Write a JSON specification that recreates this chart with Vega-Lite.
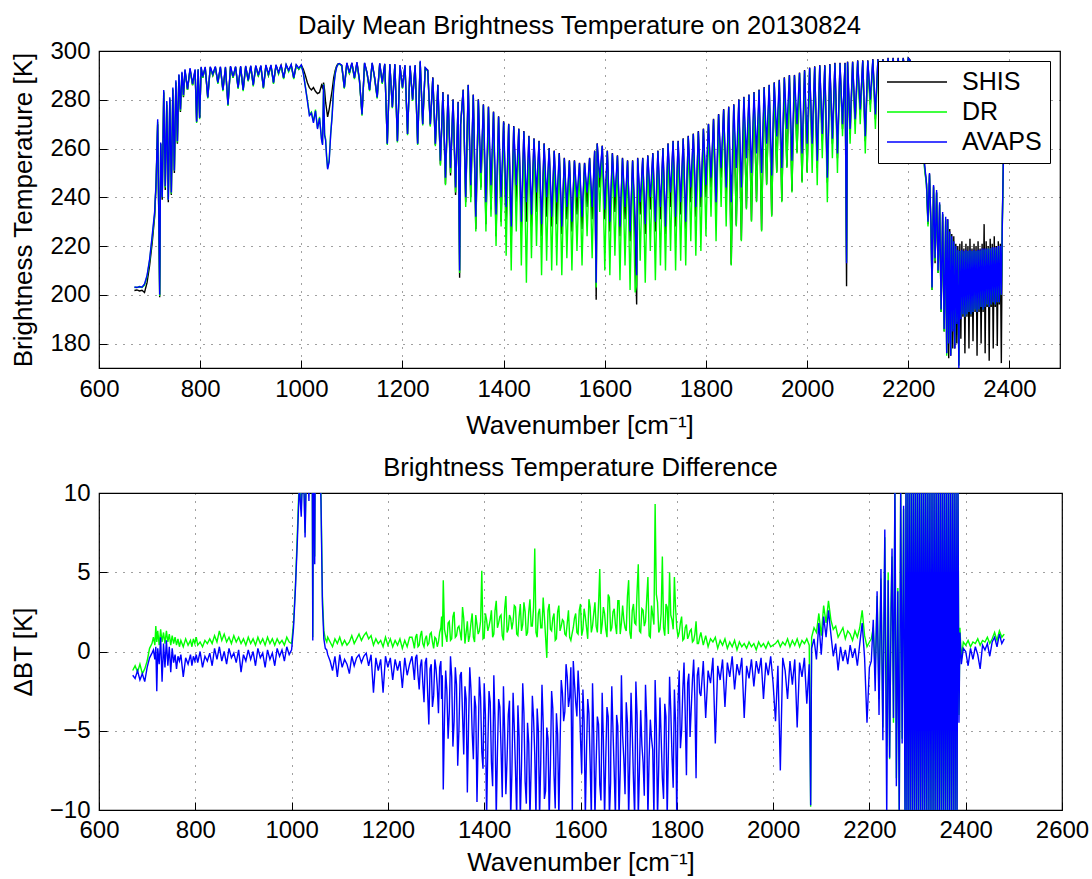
{
"$schema": "https://vega.github.io/schema/vega-lite/v6.json",
"background": "white",
"padding": {"left": 9, "top": 13, "right": 4, "bottom": 0},
"spacing": 16,
"resolve": {"legend": {"color": "independent"}},
"config": {
 "font": "Liberation Sans",
 "view": {"stroke": "black", "strokeWidth": 1.2},
 "mark": {"invalid": "filter"},
 "axis": {"domain": false, "labelFont": "Liberation Sans", "labelFontSize": 24, "labelColor": "black", "labelFlush": false, "labelOverlap": false, "titleFont": "Liberation Sans", "titleFontSize": 26, "titleFontWeight": "normal", "titleColor": "black", "tickColor": "black", "tickSize": -8, "tickWidth": 1, "labelPadding": 17, "grid": true, "gridColor": "black", "gridDash": [1, 7], "gridOpacity": 0.75, "gridWidth": 1, "format": "d"},
 "axisY": {"titlePadding": 13},
 "axisX": {"titlePadding": 11, "labelPadding": 17},
 "title": {"font": "Liberation Sans", "fontSize": 25.6, "fontWeight": "normal", "color": "black", "frame": "group", "anchor": "middle", "baseline": "alphabetic", "offset": -1}
},
"data": {"values": [
{"wn":670,"S":201.8,"D":203.0,"A":203.2,"dD":-1.2,"dA":-1.5},
{"wn":675,"S":202.0,"D":203.1,"A":203.0,"dD":-0.9,"dA":-1.7},
{"wn":680,"S":201.6,"D":203.2,"A":203.4,"dD":-1.3,"dA":-1.2},
{"wn":685,"S":201.9,"D":203.0,"A":203.1,"dD":-0.8,"dA":-1.8},
{"wn":690,"S":201.0,"D":204.0,"A":204.5,"dD":-1.4,"dA":-1.4},
{"wn":695,"S":205.0,"D":207.5,"A":208.0,"dD":-1.1,"dA":-1.9},
{"wn":700,"S":212,"D":214,"A":214.5,"dD":-0.6,"dA":-1.0},
{"wn":705,"S":221,"D":223,"A":224,"dD":0.2,"dA":-0.4},
{"wn":710,"S":232,"D":233,"A":234,"dD":0.5,"dA":-0.1},
{"wn":713,"S":246,"D":246.5,"A":247,"dD":0.9,"dA":0.1},
{"wn":716,"S":270,"D":271,"A":272,"dD":0.4,"dA":-0.5},
{"wn":718,"S":236,"D":236.5,"A":237,"dD":1.6,"dA":0.3},
{"wn":720,"S":199,"D":199.5,"A":200,"dD":0.6,"dA":-2.5},
{"wn":722,"S":262,"D":262,"A":262.5,"dD":1.3,"dA":0.2},
{"wn":725,"S":239,"D":240,"A":240,"dD":0.4,"dA":-0.8},
{"wn":728,"S":283,"D":283.5,"A":284,"dD":1.4,"dA":0.9},
{"wn":731,"S":243,"D":244,"A":244.5,"dD":0.6,"dA":-1.9},
{"wn":734,"S":278,"D":279,"A":279.5,"dD":1.2,"dA":0.5},
{"wn":737,"S":238,"D":239,"A":239,"dD":0.5,"dA":-1.0},
{"wn":740,"S":280,"D":280.5,"A":281,"dD":1.3,"dA":0.7},
{"wn":743,"S":241,"D":241.5,"A":242,"dD":0.6,"dA":-0.9},
{"wn":746,"S":284,"D":284.5,"A":285,"dD":1.1,"dA":0.3},
{"wn":749,"S":250,"D":251,"A":251,"dD":0.4,"dA":-1.3},
{"wn":752,"S":287,"D":287.5,"A":288,"dD":1.0,"dA":0.2},
{"wn":755,"S":262,"D":262.5,"A":263,"dD":0.5,"dA":-0.7},
{"wn":758,"S":290,"D":290,"A":290.5,"dD":0.9,"dA":-0.2},
{"wn":761,"S":275,"D":275.5,"A":276,"dD":0.4,"dA":-1.1},
{"wn":764,"S":291,"D":291,"A":291.5,"dD":0.8,"dA":-0.3},
{"wn":767,"S":281,"D":281.5,"A":282,"dD":0.3,"dA":-0.6},
{"wn":770,"S":292,"D":292,"A":292.5,"dD":0.7,"dA":-0.2},
{"wn":775,"S":284,"D":284,"A":284.5,"dD":0.3,"dA":-1.6},
{"wn":780,"S":292.5,"D":292.5,"A":293,"dD":0.8,"dA":-0.4},
{"wn":785,"S":286,"D":286,"A":286.5,"dD":0.4,"dA":-0.8},
{"wn":790,"S":292,"D":292,"A":292.5,"dD":0.7,"dA":-0.2},
{"wn":793,"S":271,"D":270.5,"A":271,"dD":0.3,"dA":-0.9},
{"wn":796,"S":292,"D":292.5,"A":292.5,"dD":0.8,"dA":-0.3},
{"wn":799,"S":272.5,"D":272,"A":272.5,"dD":0.5,"dA":-0.6},
{"wn":802,"S":293,"D":293,"A":293.5,"dD":0.9,"dA":-0.2},
{"wn":805,"S":289,"D":289,"A":289.5,"dD":0.4,"dA":-0.7},
{"wn":810,"S":293.2,"D":293.2,"A":293.5,"dD":0.6,"dA":0.0},
{"wn":815,"S":281,"D":280.5,"A":281,"dD":0.3,"dA":-1.0},
{"wn":820,"S":293.3,"D":293.3,"A":293.6,"dD":0.7,"dA":-0.3},
{"wn":825,"S":290,"D":290,"A":290.5,"dD":0.5,"dA":-0.6},
{"wn":830,"S":293.4,"D":293.4,"A":293.7,"dD":0.8,"dA":-0.1},
{"wn":835,"S":287,"D":286.5,"A":287,"dD":0.5,"dA":-0.9},
{"wn":840,"S":293.3,"D":293.3,"A":293.6,"dD":1.0,"dA":0.2},
{"wn":845,"S":284,"D":283.5,"A":284,"dD":0.6,"dA":-0.5},
{"wn":850,"S":293.2,"D":293.2,"A":293.5,"dD":1.3,"dA":0.3},
{"wn":855,"S":278,"D":277.5,"A":278,"dD":0.7,"dA":-0.6},
{"wn":860,"S":293.5,"D":293.5,"A":293.8,"dD":1.1,"dA":0.0},
{"wn":865,"S":289,"D":289,"A":289.5,"dD":0.6,"dA":-0.8},
{"wn":870,"S":293.4,"D":293.4,"A":293.7,"dD":0.9,"dA":0.2},
{"wn":875,"S":285,"D":284.5,"A":285,"dD":0.5,"dA":-0.4},
{"wn":880,"S":293.5,"D":293.5,"A":293.8,"dD":1.0,"dA":-0.1},
{"wn":885,"S":284,"D":283.5,"A":284,"dD":0.6,"dA":-0.7},
{"wn":890,"S":293.6,"D":293.6,"A":293.9,"dD":0.9,"dA":0.1},
{"wn":895,"S":288,"D":287.5,"A":288,"dD":0.5,"dA":-1.3},
{"wn":900,"S":293.7,"D":293.7,"A":294,"dD":0.8,"dA":-0.2},
{"wn":905,"S":286,"D":285.5,"A":286,"dD":0.4,"dA":-0.6},
{"wn":910,"S":293.8,"D":293.8,"A":294.1,"dD":0.9,"dA":0.1},
{"wn":915,"S":290,"D":289.5,"A":290,"dD":0.5,"dA":-0.5},
{"wn":920,"S":293.8,"D":293.8,"A":294.1,"dD":0.8,"dA":0.0},
{"wn":925,"S":285,"D":284.5,"A":285,"dD":0.4,"dA":-0.9},
{"wn":930,"S":294,"D":294,"A":294.3,"dD":0.9,"dA":0.2},
{"wn":935,"S":290,"D":290,"A":290.5,"dD":0.5,"dA":-0.4},
{"wn":940,"S":294,"D":294,"A":294.3,"dD":0.8,"dA":-0.1},
{"wn":945,"S":287,"D":286.5,"A":287,"dD":0.4,"dA":-1.0},
{"wn":950,"S":294.1,"D":294.1,"A":294.4,"dD":0.9,"dA":0.1},
{"wn":955,"S":291,"D":290.5,"A":291,"dD":0.5,"dA":-0.5},
{"wn":960,"S":294.1,"D":294.1,"A":294.4,"dD":0.8,"dA":-0.1},
{"wn":965,"S":289,"D":288.5,"A":289,"dD":0.4,"dA":-0.9},
{"wn":970,"S":294.2,"D":294.2,"A":294.5,"dD":0.8,"dA":0.2},
{"wn":975,"S":292,"D":291.5,"A":292,"dD":0.5,"dA":-0.3},
{"wn":980,"S":294.2,"D":294.2,"A":294.5,"dD":0.7,"dA":0.1},
{"wn":985,"S":289,"D":288.5,"A":289,"dD":0.4,"dA":-0.6},
{"wn":990,"S":294.1,"D":294.1,"A":294.4,"dD":0.9,"dA":0.3},
{"wn":995,"S":292.5,"D":292.5,"A":293,"dD":0.6,"dA":-0.2},
{"wn":1000,"S":294.2,"D":294.1,"A":294.3,"dD":0.5,"dA":0.1},
{"wn":1004,"S":292.5,"D":291,"A":290.8,"dD":1.8,"dA":1.5},
{"wn":1008,"S":290,"D":285.5,"A":285.2,"dD":4.2,"dA":4.0},
{"wn":1012,"S":287,"D":280,"A":279.5,"dD":7.5,"dA":7.0},
{"wn":1016,"S":285,"D":274,"A":273.5,"dD":11,"dA":10.5},
{"wn":1020,"S":284,"D":275,"A":274.5,"dD":9.0,"dA":8.5},
{"wn":1024,"S":285,"D":271,"A":270.5,"dD":13,"dA":12.5},
{"wn":1028,"S":283.5,"D":276,"A":275.5,"dD":7.5,"dA":7.2},
{"wn":1032,"S":282.5,"D":268.5,"A":268,"dD":14,"dA":13.5},
{"wn":1036,"S":283,"D":273,"A":272.5,"dD":10,"dA":9.5},
{"wn":1040,"S":286,"D":264,"A":263.5,"dD":20,"dA":19},
{"wn":1042,"S":285,"D":262,"A":261.5,"dD":21,"dA":20},
{"wn":1044,"S":287,"D":286.5,"A":286.3,"dD":0.9,"dA":0.7},
{"wn":1046,"S":284,"D":266,"A":265.5,"dD":18,"dA":17},
{"wn":1048,"S":279,"D":264,"A":263.5,"dD":6.0,"dA":5.5},
{"wn":1050,"S":276,"D":257,"A":256.5,"dD":19,"dA":18},
{"wn":1052,"S":273,"D":252,"A":251.5,"dD":21,"dA":20},
{"wn":1055,"S":276,"D":255,"A":254.5,"dD":21,"dA":20},
{"wn":1058,"S":280,"D":266,"A":265.5,"dD":14,"dA":13},
{"wn":1061,"S":284,"D":274,"A":273.5,"dD":10,"dA":9.5},
{"wn":1064,"S":289,"D":285.5,"A":285,"dD":3.5,"dA":3.0},
{"wn":1067,"S":292,"D":291,"A":290.5,"dD":1.3,"dA":0.8},
{"wn":1070,"S":294,"D":293.6,"A":293.5,"dD":0.8,"dA":0.2},
{"wn":1073,"S":294.8,"D":294.6,"A":294.7,"dD":0.6,"dA":0.1},
{"wn":1075,"S":294.8,"D":294.7,"A":294.9,"dD":0.9,"dA":-0.2},
{"wn":1080,"S":294,"D":293.8,"A":294.2,"dD":0.6,"dA":-0.6},
{"wn":1085,"S":285,"D":284.5,"A":285,"dD":0.3,"dA":-1.2},
{"wn":1090,"S":295,"D":294.8,"A":295.2,"dD":0.8,"dA":-0.3},
{"wn":1095,"S":291,"D":290.5,"A":291,"dD":0.5,"dA":-1.6},
{"wn":1100,"S":295,"D":294.8,"A":295.2,"dD":0.9,"dA":-0.2},
{"wn":1105,"S":289,"D":288.5,"A":289,"dD":0.4,"dA":-1.0},
{"wn":1110,"S":295.2,"D":295,"A":295.4,"dD":0.7,"dA":-0.5},
{"wn":1115,"S":288,"D":287.5,"A":288,"dD":0.4,"dA":-0.8},
{"wn":1120,"S":274,"D":273.5,"A":274,"dD":0.6,"dA":-1.4},
{"wn":1125,"S":295,"D":294.8,"A":295.2,"dD":1.0,"dA":-0.3},
{"wn":1130,"S":291,"D":290.5,"A":291,"dD":0.5,"dA":-0.9},
{"wn":1135,"S":284,"D":283.5,"A":284,"dD":0.8,"dA":-0.4},
{"wn":1140,"S":295,"D":294.8,"A":295.2,"dD":1.1,"dA":-0.2},
{"wn":1145,"S":289,"D":288.5,"A":289,"dD":0.7,"dA":-0.7},
{"wn":1150,"S":281,"D":280.5,"A":281,"dD":1.0,"dA":-0.3},
{"wn":1155,"S":294.8,"D":294.6,"A":295,"dD":1.2,"dA":-0.1},
{"wn":1160,"S":287,"D":286.5,"A":287,"dD":0.8,"dA":-0.9},
{"wn":1165,"S":294.6,"D":294.4,"A":294.8,"dD":1.0,"dA":-0.2},
{"wn":1170,"S":262,"D":261.5,"A":262,"dD":0.4,"dA":-2.6},
{"wn":1175,"S":294.5,"D":294.3,"A":294.7,"dD":0.8,"dA":-0.4},
{"wn":1180,"S":277,"D":276.5,"A":277,"dD":0.5,"dA":-1.2},
{"wn":1185,"S":294.5,"D":294.3,"A":294.7,"dD":0.7,"dA":-0.5},
{"wn":1190,"S":263,"D":262.5,"A":263,"dD":0.3,"dA":-2.6},
{"wn":1195,"S":294,"D":293.8,"A":294.2,"dD":0.9,"dA":-0.3},
{"wn":1200,"S":285,"D":284.5,"A":285,"dD":0.4,"dA":-1.0},
{"wn":1205,"S":294,"D":293.8,"A":294.2,"dD":0.8,"dA":-0.4},
{"wn":1210,"S":266,"D":265.5,"A":266,"dD":0.3,"dA":-1.8},
{"wn":1215,"S":293.8,"D":293.6,"A":294,"dD":0.7,"dA":-0.5},
{"wn":1220,"S":280,"D":279.5,"A":280,"dD":0.4,"dA":-1.2},
{"wn":1225,"S":294,"D":293.8,"A":294.2,"dD":0.8,"dA":-0.6},
{"wn":1230,"S":262,"D":261.5,"A":262,"dD":0.2,"dA":-2.3},
{"wn":1235,"S":295.5,"D":295.3,"A":296,"dD":0.7,"dA":-0.4},
{"wn":1240,"S":270,"D":269.5,"A":270,"dD":0.3,"dA":-1.5},
{"wn":1245,"S":293,"D":292.8,"A":293.2,"dD":0.9,"dA":-0.8},
{"wn":1250,"A":292,"D":291.7,"S":292.2,"dD":0.9,"dA":-0.3},
{"wn":1255,"A":270,"D":269,"S":269.5,"dD":0.2,"dA":-1.8},
{"wn":1260,"A":289,"D":288.7,"S":289.2,"dD":1.1,"dA":-0.2},
{"wn":1265,"A":262,"D":261,"S":261.5,"dD":0.4,"dA":-2.4},
{"wn":1270,"A":286,"D":285.7,"S":286.2,"dD":1.3,"dA":-0.5},
{"wn":1275,"A":255,"D":253,"S":253.5,"dD":0.3,"dA":-3.2},
{"wn":1280,"A":283,"D":282.7,"S":283.2,"dD":1.0,"dA":-0.4},
{"wn":1285,"A":248,"D":245,"S":245.5,"dD":0.5,"dA":-4.6},
{"wn":1290,"A":282,"D":281.7,"S":282.2,"dD":1.2,"dA":-0.8},
{"wn":1295,"A":252,"D":250,"S":249,"dD":0.2,"dA":-2.8},
{"wn":1300,"A":280,"D":279.7,"S":280.2,"dD":0.8,"dA":-1.1},
{"wn":1305,"A":244,"D":242,"S":241,"dD":0.6,"dA":-3.9},
{"wn":1310,"A":279,"D":278.7,"S":279.2,"dD":1.5,"dA":-0.6},
{"wn":1313,"A":210,"D":209,"S":207,"dD":0.3,"dA":-1.5},
{"wn":1315,"A":270,"D":269.5,"S":270,"dD":4.5,"dA":-8.7},
{"wn":1320,"A":284,"D":283.7,"S":284.2,"dD":1.0,"dA":-1.2},
{"wn":1325,"A":240,"D":236,"S":238,"dD":1.8,"dA":-5.5},
{"wn":1330,"A":286,"D":285.7,"S":286.2,"dD":0.7,"dA":-0.3},
{"wn":1335,"A":245,"D":238,"S":240,"dD":2.2,"dA":-6.0},
{"wn":1340,"A":282,"D":281.7,"S":282.2,"dD":0.9,"dA":-1.0},
{"wn":1345,"A":232,"D":226,"S":227,"dD":1.5,"dA":-7.2},
{"wn":1350,"A":280,"D":279.7,"S":280.2,"dD":1.2,"dA":-1.5},
{"wn":1355,"A":250,"D":243,"S":244,"dD":2.8,"dA":-4.0},
{"wn":1360,"A":278,"D":277.7,"S":278.2,"dD":0.5,"dA":-2.2},
{"wn":1365,"A":238,"D":226,"S":229,"dD":1.9,"dA":-8.9},
{"wn":1370,"A":277,"D":276.7,"S":277.2,"dD":1.0,"dA":-1.0},
{"wn":1375,"A":245,"D":232,"S":235,"dD":2.4,"dA":-5.1},
{"wn":1380,"A":275,"D":274.7,"S":275.2,"dD":0.6,"dA":-2.8},
{"wn":1385,"A":233,"D":220,"S":224,"dD":1.7,"dA":-9.5},
{"wn":1390,"A":273,"D":272.7,"S":273.2,"dD":1.3,"dA":-1.6},
{"wn":1395,"A":240,"D":228,"S":230,"dD":5.1,"dA":-6.3},
{"wn":1400,"A":271,"D":270.7,"S":271.2,"dD":0.9,"dA":-2.0},
{"wn":1405,"A":236,"D":216,"S":228,"dD":2.0,"dA":-10.5},
{"wn":1410,"A":270,"D":269.7,"S":270.2,"dD":1.6,"dA":-2.5},
{"wn":1415,"A":228,"D":210,"S":222,"dD":2.6,"dA":-7.0},
{"wn":1420,"A":269,"D":268.7,"S":269.2,"dD":1.1,"dA":-1.5},
{"wn":1425,"A":245,"D":226,"S":238,"dD":3.2,"dA":-10.5},
{"wn":1430,"A":268,"D":267.7,"S":268.2,"dD":1.8,"dA":-3.0},
{"wn":1435,"A":230,"D":212,"S":226,"dD":2.3,"dA":-6.2},
{"wn":1440,"A":267,"D":266.7,"S":267.2,"dD":0.7,"dA":-2.2},
{"wn":1445,"A":238,"D":205,"S":230,"dD":3.5,"dA":-9.0},
{"wn":1450,"A":265,"D":264.7,"S":265.2,"dD":1.4,"dA":-4.0},
{"wn":1455,"A":233,"D":215,"S":228,"dD":2.1,"dA":-10.5},
{"wn":1460,"A":264,"D":263.7,"S":264.2,"dD":1.9,"dA":-2.6},
{"wn":1465,"A":242,"D":220,"S":234,"dD":2.8,"dA":-7.5},
{"wn":1470,"A":263,"D":262.7,"S":263.2,"dD":1.0,"dA":-3.4},
{"wn":1475,"A":229,"D":208,"S":224,"dD":3.0,"dA":-10.5},
{"wn":1480,"A":262,"D":261.7,"S":262.2,"dD":1.7,"dA":-2.0},
{"wn":1485,"A":240,"D":214,"S":232,"dD":2.5,"dA":-8.2},
{"wn":1490,"A":260,"D":259.7,"S":260.2,"dD":1.2,"dA":-4.5},
{"wn":1495,"A":232,"D":210,"S":228,"dD":3.3,"dA":-10.5},
{"wn":1500,"A":259,"D":258.7,"S":259.2,"dD":1.6,"dA":-2.8},
{"wn":1505,"A":238,"D":212,"S":229,"dD":6.5,"dA":-6.5},
{"wn":1510,"A":258,"D":257.7,"S":258.2,"dD":0.9,"dA":-3.6},
{"wn":1515,"A":228,"D":208,"S":225,"dD":2.7,"dA":-10.5},
{"wn":1520,"A":256,"D":255.7,"S":256.2,"dD":1.5,"dA":-2.1},
{"wn":1525,"A":236,"D":215,"S":231,"dD":2.2,"dA":-9.3},
{"wn":1530,"A":255,"D":254.7,"S":255.2,"dD":-0.4,"dA":-4.8},
{"wn":1535,"A":230,"D":210,"S":226,"dD":3.0,"dA":-10.5},
{"wn":1540,"A":255,"D":254.7,"S":255.2,"dD":1.3,"dA":-2.5},
{"wn":1545,"A":240,"D":218,"S":233,"dD":2.4,"dA":-7.8},
{"wn":1550,"A":254,"D":253.7,"S":254.2,"dD":0.8,"dA":-3.9},
{"wn":1555,"A":232,"D":212,"S":227,"dD":2.9,"dA":-10.5},
{"wn":1560,"A":254,"D":253.7,"S":254.2,"dD":1.6,"dA":-1.8},
{"wn":1565,"A":242,"D":224,"S":236,"dD":1.9,"dA":-4.4},
{"wn":1570,"A":256,"D":255.7,"S":256.2,"dD":1.0,"dA":-0.8},
{"wn":1575,"A":236,"D":215,"S":231,"dD":2.6,"dA":-3.5},
{"wn":1580,"A":259,"D":258.7,"S":259.2,"dD":0.7,"dA":-1.0},
{"wn":1583,"A":205,"D":203,"S":198,"dD":1.2,"dA":-10.5},
{"wn":1585,"A":262,"D":261.7,"S":262.2,"dD":1.5,"dA":-0.6},
{"wn":1590,"A":248,"D":234,"S":244,"dD":2.4,"dA":-3.2},
{"wn":1595,"A":261,"D":260.7,"S":261.2,"dD":1.1,"dA":-1.2},
{"wn":1600,"A":235,"D":210,"S":231,"dD":3.0,"dA":-5.5},
{"wn":1605,"A":259,"D":258.7,"S":259.2,"dD":1.4,"dA":-2.4},
{"wn":1610,"A":230,"D":208,"S":226,"dD":2.2,"dA":-10.5},
{"wn":1615,"A":258,"D":257.7,"S":258.2,"dD":0.8,"dA":-3.0},
{"wn":1620,"A":240,"D":216,"S":234,"dD":2.8,"dA":-7.0},
{"wn":1625,"A":257,"D":256.7,"S":257.2,"dD":1.6,"dA":-2.0},
{"wn":1630,"A":228,"D":206,"S":224,"dD":3.1,"dA":-10.5},
{"wn":1635,"A":256,"D":255.7,"S":256.2,"dD":1.2,"dA":-4.1},
{"wn":1640,"A":236,"D":212,"S":231,"dD":5.2,"dA":-8.4},
{"wn":1645,"A":255,"D":254.7,"S":255.2,"dD":1.7,"dA":-2.6},
{"wn":1650,"A":226,"D":202,"S":222,"dD":2.4,"dA":-10.5},
{"wn":1655,"A":255,"D":254.7,"S":255.2,"dD":0.9,"dA":-3.5},
{"wn":1660,"A":232,"D":201,"S":222,"dD":3.4,"dA":-10.5},
{"wn":1663,"A":208,"D":204,"S":196,"dD":1.3,"dA":-6.0},
{"wn":1665,"A":256,"D":255.7,"S":256.2,"dD":1.5,"dA":-2.2},
{"wn":1670,"A":238,"D":214,"S":233,"dD":2.7,"dA":-7.6},
{"wn":1675,"A":256,"D":255.7,"S":256.2,"dD":1.1,"dA":-4.0},
{"wn":1680,"A":229,"D":205,"S":225,"dD":3.2,"dA":-10.5},
{"wn":1685,"A":257,"D":256.7,"S":257.2,"dD":1.8,"dA":-1.5},
{"wn":1690,"A":240,"D":218,"S":235,"dD":2.0,"dA":-6.8},
{"wn":1695,"A":258,"D":257.7,"S":258.2,"dD":1.3,"dA":-3.2},
{"wn":1700,"A":230,"D":206,"S":226,"dD":4.5,"dA":-10.5},
{"wn":1705,"A":259,"D":258.7,"S":259.2,"dD":0.8,"dA":-2.6},
{"wn":1710,"A":236,"D":212,"S":231,"dD":3.0,"dA":-8.1},
{"wn":1715,"A":260,"D":259.7,"S":260.2,"dD":1.7,"dA":-1.9},
{"wn":1720,"A":228,"D":210,"S":225,"dD":5.5,"dA":-10.5},
{"wn":1725,"A":262,"D":261.7,"S":262.2,"dD":1.2,"dA":-3.7},
{"wn":1730,"A":242,"D":218,"S":236,"dD":2.6,"dA":-7.0},
{"wn":1735,"A":263,"D":262.7,"S":263.2,"dD":1.9,"dA":-2.1},
{"wn":1740,"A":232,"D":210,"S":228,"dD":4.7,"dA":-10.5},
{"wn":1745,"A":263,"D":262.7,"S":263.2,"dD":0.9,"dA":-4.3},
{"wn":1750,"A":238,"D":214,"S":233,"dD":2.3,"dA":-6.2},
{"wn":1755,"A":264,"D":263.7,"S":264.2,"dD":9.3,"dA":-1.8},
{"wn":1760,"A":230,"D":212,"S":227,"dD":3.1,"dA":-10.5},
{"wn":1765,"A":265,"D":264.7,"S":265.2,"dD":1.4,"dA":-2.9},
{"wn":1770,"A":244,"D":222,"S":238,"dD":6.0,"dA":-8.0},
{"wn":1775,"A":266,"D":265.7,"S":266.2,"dD":1.0,"dA":-3.3},
{"wn":1780,"A":236,"D":216,"S":232,"dD":2.8,"dA":-10.5},
{"wn":1785,"A":267,"D":266.7,"S":267.2,"dD":5.0,"dA":-1.6},
{"wn":1790,"A":240,"D":218,"S":236,"dD":2.0,"dA":-6.6},
{"wn":1795,"A":268,"D":267.7,"S":268.2,"dD":4.7,"dA":-2.4},
{"wn":1800,"A":245,"D":224,"S":240,"dD":1.5,"dA":-10.5},
{"wn":1805,"A":270,"D":269.7,"S":270.2,"dD":1.2,"dA":-1.2},
{"wn":1810,"A":248,"D":232,"S":244,"dD":2.2,"dA":-5.0},
{"wn":1815,"A":272,"D":271.7,"S":272.2,"dD":0.8,"dA":-0.7},
{"wn":1820,"A":238,"D":222,"S":235,"dD":1.7,"dA":-7.8},
{"wn":1825,"A":274,"D":273.7,"S":274.2,"dD":1.0,"dA":-1.4},
{"wn":1830,"A":252,"D":236,"S":248,"dD":1.4,"dA":-3.6},
{"wn":1835,"A":276,"D":275.7,"S":276.2,"dD":0.7,"dA":-0.5},
{"wn":1840,"A":244,"D":228,"S":241,"dD":1.9,"dA":-8.0},
{"wn":1845,"A":277,"D":276.7,"S":277.2,"dD":0.5,"dA":-1.0},
{"wn":1850,"A":238,"D":212,"S":212.5,"dD":1.2,"dA":-2.8},
{"wn":1855,"A":278,"D":277.7,"S":278.2,"dD":0.4,"dA":-0.6},
{"wn":1860,"A":252,"D":228,"S":228.5,"dD":1.0,"dA":-4.2},
{"wn":1865,"A":280,"D":279.7,"S":280.2,"dD":0.3,"dA":-1.2},
{"wn":1870,"A":244,"D":222,"S":222.5,"dD":0.8,"dA":-2.0},
{"wn":1875,"A":281,"D":280.7,"S":281.2,"dD":0.6,"dA":-0.4},
{"wn":1880,"A":256,"D":235,"S":235.5,"dD":0.9,"dA":-5.8},
{"wn":1885,"A":282,"D":281.7,"S":282.2,"dD":0.2,"dA":-0.9},
{"wn":1890,"A":250,"D":230,"S":230.5,"dD":0.7,"dA":-1.8},
{"wn":1895,"A":283,"D":282.7,"S":283.2,"dD":0.4,"dA":-0.5},
{"wn":1900,"A":258,"D":238,"S":238.5,"dD":0.8,"dA":-3.5},
{"wn":1905,"A":284,"D":283.7,"S":284.2,"dD":0.2,"dA":-0.7},
{"wn":1910,"A":250,"D":226,"S":226.5,"dD":0.6,"dA":-1.6},
{"wn":1915,"A":285,"D":284.7,"S":285.2,"dD":0.3,"dA":-0.3},
{"wn":1920,"A":262,"D":245,"S":245.5,"dD":0.7,"dA":-2.4},
{"wn":1925,"A":286,"D":285.7,"S":286.2,"dD":0.1,"dA":-0.8},
{"wn":1930,"A":249,"D":232,"S":232.5,"dD":0.6,"dA":-1.5},
{"wn":1935,"A":287,"D":286.7,"S":287.2,"dD":0.3,"dA":-0.4},
{"wn":1940,"A":265,"D":250,"S":250.5,"dD":0.5,"dA":-4.2},
{"wn":1945,"A":288,"D":287.7,"S":288.2,"dD":0.2,"dA":-0.9},
{"wn":1950,"A":252,"D":238,"S":238.5,"dD":0.6,"dA":-1.7},
{"wn":1955,"A":289,"D":288.7,"S":289.2,"dD":0.3,"dA":-0.5},
{"wn":1960,"A":268,"D":252,"S":252.5,"dD":0.5,"dA":-2.2},
{"wn":1965,"A":290,"D":289.7,"S":290.2,"dD":0.1,"dA":-0.6},
{"wn":1970,"A":255,"D":242,"S":242.5,"dD":0.6,"dA":-1.4},
{"wn":1975,"A":290,"D":289.7,"S":290.2,"dD":0.3,"dA":-0.4},
{"wn":1980,"A":270,"D":258,"S":258.5,"dD":0.5,"dA":-3.0},
{"wn":1985,"A":291,"D":290.7,"S":291.2,"dD":0.2,"dA":-0.7},
{"wn":1990,"A":258,"D":246,"S":246.5,"dD":0.6,"dA":-1.5},
{"wn":1995,"A":292,"D":291.7,"S":292.2,"dD":0.3,"dA":-0.3},
{"wn":2000,"A":262,"D":250,"S":250.5,"dD":0.4,"dA":-2.0},
{"wn":2005,"A":293,"D":292.7,"S":293.2,"dD":0.5,"dA":-4.4},
{"wn":2010,"A":262,"D":250,"S":258,"dD":0.7,"dA":-0.9},
{"wn":2015,"A":293.5,"D":293.2,"S":293.7,"dD":0.3,"dA":-7.5},
{"wn":2020,"A":255,"D":245,"S":252,"dD":0.6,"dA":-0.4},
{"wn":2025,"A":294,"D":293.7,"S":294.2,"dD":0.4,"dA":-1.2},
{"wn":2030,"A":266,"D":256,"S":263,"dD":0.8,"dA":-3.0},
{"wn":2035,"A":294,"D":293.7,"S":294.2,"dD":0.3,"dA":-0.6},
{"wn":2040,"A":248,"D":238,"S":246,"dD":0.7,"dA":-2.1},
{"wn":2045,"A":294.5,"D":294.2,"S":294.7,"dD":0.4,"dA":-0.5},
{"wn":2050,"A":264,"D":256,"S":262,"dD":0.8,"dA":-4.8},
{"wn":2055,"A":295,"D":294.7,"S":295.2,"dD":0.3,"dA":-0.7},
{"wn":2060,"A":258,"D":250,"S":256,"dD":0.7,"dA":-1.6},
{"wn":2065,"A":295,"D":294.7,"S":295.2,"dD":0.5,"dA":-0.4},
{"wn":2070,"A":270,"D":265,"S":268,"dD":0.8,"dA":-3.3},
{"wn":2075,"A":295,"D":294.7,"S":295.2,"dD":0.4,"dA":-0.8},
{"wn":2078,"A":213,"D":213.5,"S":203.5,"dD":-9.8,"dA":-9.7},
{"wn":2080,"A":295.5,"D":295.2,"S":295.7,"dD":0.9,"dA":0.2},
{"wn":2085,"A":268,"D":262,"S":266,"dD":1.5,"dA":0.8},
{"wn":2090,"A":295.5,"D":295.2,"S":295.7,"dD":1.2,"dA":-0.5},
{"wn":2095,"A":272,"D":266,"S":270,"dD":2.4,"dA":1.8},
{"wn":2100,"A":296,"D":295.7,"S":296.2,"dD":1.0,"dA":-0.2},
{"wn":2105,"A":276,"D":270,"S":274,"dD":2.9,"dA":2.2},
{"wn":2110,"A":296,"D":295.7,"S":296.2,"dD":1.8,"dA":0.9},
{"wn":2115,"A":265,"D":258,"S":263,"dD":3.2,"dA":2.6},
{"wn":2120,"A":296,"D":295.7,"S":296.2,"dD":2.0,"dA":1.1},
{"wn":2125,"A":280,"D":275,"S":278,"dD":1.4,"dA":-0.3},
{"wn":2130,"A":296.5,"D":296.2,"S":296.7,"dD":1.6,"dA":0.5},
{"wn":2135,"A":274,"D":268,"S":272,"dD":0.9,"dA":-1.2},
{"wn":2140,"A":296.5,"D":296.2,"S":296.7,"dD":1.2,"dA":0.3},
{"wn":2145,"A":282,"D":278,"S":280,"dD":1.5,"dA":-0.6},
{"wn":2150,"A":296.5,"D":296.2,"S":296.7,"dD":0.8,"dA":0.1},
{"wn":2155,"A":285,"D":282,"S":284,"dD":1.3,"dA":-0.8},
{"wn":2160,"A":297,"D":296.7,"S":297.2,"dD":1.1,"dA":0.4},
{"wn":2165,"A":287,"D":284,"S":286,"dD":0.7,"dA":-0.4},
{"wn":2170,"A":297,"D":296.7,"S":297.2,"dD":1.3,"dA":0.2},
{"wn":2175,"A":288,"D":286,"S":287,"dD":0.9,"dA":-0.9},
{"wn":2180,"A":297,"D":296.7,"S":297.2,"dD":1.5,"dA":0.5},
{"wn":2185,"A":286,"D":284,"S":285,"dD":2.6,"dA":1.8},
{"wn":2190,"A":297,"D":296.7,"S":297.2,"dD":1.0,"dA":-0.4},
{"wn":2195,"A":290,"D":289,"S":289.5,"dD":0.3,"dA":-4.5},
{"wn":2200,"A":297,"D":296.7,"S":297.2,"dD":0.6,"dA":-1.0},
{"wn":2204,"A":296,"D":295.7,"S":296.2,"dD":0.8,"dA":-0.6},
{"wn":2208,"A":290,"D":288,"S":289,"dD":1.5,"dA":2.0},
{"wn":2212,"A":295,"D":294.7,"S":295.2,"dD":-1.2,"dA":-2.5},
{"wn":2216,"A":285,"D":283,"S":284,"dD":3.5,"dA":3.8},
{"wn":2220,"A":294,"D":293.7,"S":294.2,"dD":-3.0,"dA":-4.0},
{"wn":2224,"A":280,"D":278,"S":279,"dD":4.6,"dA":5.2},
{"wn":2228,"A":292,"D":291.7,"S":292.2,"dD":-4.8,"dA":-5.6},
{"wn":2232,"A":254,"D":252,"S":253,"dD":7.2,"dA":7.7},
{"wn":2236,"A":246,"D":245,"S":245.5,"dD":-6.0,"dA":-10.5},
{"wn":2239,"A":230,"D":228,"S":229,"dD":5.0,"dA":4.5},
{"wn":2242,"A":250,"D":249,"S":249.5,"dD":-6.8,"dA":-6.7},
{"wn":2245,"A":228,"D":226,"S":227,"dD":3.0,"dA":2.5},
{"wn":2247,"A":203,"D":202,"S":202,"dD":6.0,"dA":6.5},
{"wn":2250,"A":245,"D":244,"S":244.5,"dD":-4.5,"dA":-4.2},
{"wn":2253,"A":215,"D":214,"S":213,"dD":10.5,"dA":10.5},
{"wn":2256,"A":243,"D":242,"S":242,"dD":-8.0,"dA":-8.5},
{"wn":2259,"A":210,"D":209,"S":209,"dD":4.0,"dA":3.8},
{"wn":2262,"A":238,"D":237,"S":237,"dD":-10.5,"dA":-10.5},
{"wn":2265,"A":194,"D":193,"S":193,"dD":10.5,"dA":10.5},
{"wn":2268,"A":234,"D":233,"S":233,"dD":-5.5,"dA":-5.8},
{"wn":2271,"A":186,"D":185,"S":185,"dD":9.0,"dA":9.2},
{"wn":2274,"A":232,"D":231,"S":231,"dD":-10.5,"dA":-10.5},
{"wn":2276,"A":176,"D":175,"S":176,"dD":10.5,"dA":10.5},
{"wn":2278,"A":231,"D":230,"S":231,"dD":-10.5,"dA":-10.5},
{"wn":2280,"A":180,"D":181,"S":174,"dD":10.5,"dA":10.5},
{"wn":2282,"A":226,"D":225,"S":227,"dD":-10.5,"dA":-10.5},
{"wn":2284,"A":175,"D":176,"S":175,"dD":10.5,"dA":10.5},
{"wn":2286,"A":224,"D":223,"S":225,"dD":-10.5,"dA":-10.5},
{"wn":2288,"A":185,"D":186,"S":178,"dD":10.5,"dA":10.5},
{"wn":2290,"A":222,"D":221,"S":224,"dD":-10.5,"dA":-10.5},
{"wn":2292,"A":178,"D":180,"S":178,"dD":10.5,"dA":10.5},
{"wn":2294,"A":220,"D":219,"S":221,"dD":-10.5,"dA":-10.5},
{"wn":2296,"A":188,"D":189,"S":180,"dD":10.5,"dA":10.5},
{"wn":2298,"A":218.5,"D":218,"S":220,"dD":-10.5,"dA":-10.5},
{"wn":2300,"A":170,"D":171,"S":171,"dD":10.5,"dA":10.5},
{"wn":2302,"A":218,"D":218,"S":221,"dD":-10.5,"dA":-10.5},
{"wn":2304,"A":190,"D":191,"S":182,"dD":10.5,"dA":10.5},
{"wn":2306,"A":218.5,"D":218,"S":222,"dD":-10.5,"dA":-10.5},
{"wn":2308,"A":192,"D":192,"S":191,"dD":10.5,"dA":10.5},
{"wn":2310,"A":218,"D":217.5,"S":219,"dD":-10.5,"dA":-10.5},
{"wn":2312,"A":191,"D":191,"S":176,"dD":10.5,"dA":10.5},
{"wn":2314,"A":218.5,"D":218,"S":221,"dD":-10.5,"dA":-10.5},
{"wn":2316,"A":192,"D":192,"S":191,"dD":10.5,"dA":10.5},
{"wn":2318,"A":218,"D":218,"S":220,"dD":-10.5,"dA":-10.5},
{"wn":2320,"A":193,"D":193,"S":178,"dD":10.5,"dA":10.5},
{"wn":2322,"A":218.5,"D":218,"S":223,"dD":-10.5,"dA":-10.5},
{"wn":2324,"A":192,"D":192,"S":191,"dD":10.5,"dA":10.5},
{"wn":2326,"A":218,"D":218,"S":219,"dD":-10.5,"dA":-10.5},
{"wn":2328,"A":193,"D":193,"S":181,"dD":10.5,"dA":10.5},
{"wn":2330,"A":218.5,"D":218,"S":221,"dD":-10.5,"dA":-10.5},
{"wn":2332,"A":194,"D":194,"S":193,"dD":10.5,"dA":10.5},
{"wn":2334,"A":218,"D":218,"S":220,"dD":-10.5,"dA":-10.5},
{"wn":2336,"A":193,"D":193,"S":175,"dD":10.5,"dA":10.5},
{"wn":2338,"A":218.5,"D":218,"S":222,"dD":-10.5,"dA":-10.5},
{"wn":2340,"A":194,"D":194,"S":193,"dD":10.5,"dA":10.5},
{"wn":2342,"A":218.5,"D":218,"S":219,"dD":-10.5,"dA":-10.5},
{"wn":2344,"A":195,"D":195,"S":180,"dD":10.5,"dA":10.5},
{"wn":2346,"A":219,"D":218.5,"S":221,"dD":-10.5,"dA":-10.5},
{"wn":2348,"A":194,"D":194,"S":193,"dD":10.5,"dA":10.5},
{"wn":2350,"A":219,"D":218.5,"S":229,"dD":-10.5,"dA":-10.5},
{"wn":2352,"A":195,"D":195,"S":176,"dD":10.5,"dA":10.5},
{"wn":2354,"A":219,"D":218.5,"S":222,"dD":-10.5,"dA":-10.5},
{"wn":2356,"A":196,"D":196,"S":195,"dD":10.5,"dA":10.5},
{"wn":2358,"A":219,"D":219,"S":220,"dD":-10.5,"dA":-10.5},
{"wn":2360,"A":195,"D":195,"S":173,"dD":10.5,"dA":10.5},
{"wn":2362,"A":219,"D":219,"S":223,"dD":-10.5,"dA":-10.5},
{"wn":2364,"A":196,"D":196,"S":195,"dD":10.5,"dA":10.5},
{"wn":2366,"A":219.5,"D":219,"S":221,"dD":-10.5,"dA":-10.5},
{"wn":2368,"A":197,"D":197,"S":178,"dD":10.5,"dA":10.5},
{"wn":2370,"A":219.5,"D":219,"S":224,"dD":-10.5,"dA":-10.5},
{"wn":2372,"A":196,"D":196,"S":195,"dD":10.5,"dA":10.5},
{"wn":2374,"A":219.5,"D":219,"S":220,"dD":-10.5,"dA":-10.5},
{"wn":2376,"A":197,"D":197,"S":179,"dD":10.5,"dA":10.5},
{"wn":2378,"A":220,"D":219.5,"S":222,"dD":-10.5,"dA":-10.5},
{"wn":2380,"A":197,"D":197,"S":196,"dD":10.5,"dA":10.5},
{"wn":2382,"A":220,"D":219.5,"S":221,"dD":-10.5,"dA":-10.5},
{"wn":2384,"A":200,"D":200,"S":172,"dD":10.5,"dA":10.5},
{"wn":2386,"A":230,"D":229,"S":231,"dD":-4.0,"dA":-4.5},
{"wn":2388,"A":255,"D":254,"S":255,"dD":1.5,"dA":1.2},
{"wn":2391,"A":275,"D":274,"S":275,"dD":-0.5,"dA":-0.8},
{"wn":2395,"A":285,"D":284.7,"S":285.2,"dD":0.6,"dA":0.2},
{"wn":2400,"A":288,"D":287.7,"S":288.2,"dD":0.4,"dA":0.0},
{"wn":2405,"A":284,"D":283.5,"S":284,"dD":0.7,"dA":-0.9},
{"wn":2410,"A":289,"D":288.7,"S":289.2,"dD":0.3,"dA":0.2},
{"wn":2415,"A":285,"D":284.5,"S":285,"dD":0.6,"dA":-0.5},
{"wn":2420,"A":289,"D":288.7,"S":289.2,"dD":0.5,"dA":0.3},
{"wn":2425,"A":286,"D":285.5,"S":286,"dD":0.8,"dA":-0.2},
{"wn":2430,"A":289,"D":288.7,"S":289.2,"dD":0.4,"dA":-1.1},
{"wn":2435,"A":286,"D":285.5,"S":286,"dD":0.7,"dA":0.4},
{"wn":2440,"A":289.5,"D":289.2,"S":289.7,"dD":0.6,"dA":0.1},
{"wn":2445,"A":287,"D":286.5,"S":287,"dD":0.9,"dA":0.5},
{"wn":2450,"A":289.5,"D":289.2,"S":289.7,"dD":0.5,"dA":-0.3},
{"wn":2455,"A":287,"D":286.5,"S":287,"dD":0.8,"dA":0.6},
{"wn":2460,"A":290,"D":289.7,"S":290.2,"dD":1.2,"dA":0.9},
{"wn":2465,"A":287.5,"D":287,"S":287.5,"dD":0.7,"dA":0.3},
{"wn":2470,"A":290,"D":289.7,"S":290.2,"dD":1.3,"dA":1.1},
{"wn":2475,"A":288,"D":287.5,"S":288,"dD":0.9,"dA":0.5},
{"wn":2480,"A":290,"D":289.7,"S":290.2,"dD":1.1,"dA":0.8},
{"wn":1252.5,"dD":0.6,"dA":-1.0},{"wn":1257.5,"dD":0.9,"dA":-0.4},{"wn":1262.5,"dD":0.3,"dA":-1.5},{"wn":1267.5,"dD":1.0,"dA":-0.9},
{"wn":1272.5,"dD":0.5,"dA":-2.0},{"wn":1277.5,"dD":0.8,"dA":-0.7},{"wn":1282.5,"dD":0.4,"dA":-2.6},{"wn":1287.5,"dD":1.1,"dA":-1.1},
{"wn":1292.5,"dD":0.6,"dA":-3.5},{"wn":1297.5,"dD":0.9,"dA":-0.5},{"wn":1302.5,"dD":0.3,"dA":-2.2},{"wn":1307.5,"dD":1.2,"dA":-1.0},
{"wn":1311.5,"dD":2.2,"dA":-3.0},{"wn":1317.5,"dD":1.4,"dA":-4.2},{"wn":1322.5,"dD":0.6,"dA":-2.5},{"wn":1327.5,"dD":1.9,"dA":-3.8},
{"wn":1332.5,"dD":0.8,"dA":-1.6},{"wn":1337.5,"dD":2.5,"dA":-4.4},{"wn":1342.5,"dD":1.0,"dA":-2.1},{"wn":1347.5,"dD":1.6,"dA":-5.0},
{"wn":1352.5,"dD":0.7,"dA":-1.3},{"wn":1357.5,"dD":2.1,"dA":-6.5},{"wn":1362.5,"dD":1.2,"dA":-3.0},{"wn":1367.5,"dD":0.6,"dA":-4.6},
{"wn":1372.5,"dD":1.8,"dA":-2.4},{"wn":1377.5,"dD":0.9,"dA":-6.8},{"wn":1382.5,"dD":2.3,"dA":-3.5},{"wn":1387.5,"dD":1.1,"dA":-5.6},
{"wn":1392.5,"dD":1.9,"dA":-2.9},{"wn":1397.5,"dD":0.8,"dA":-7.4},{"wn":1402.5,"dD":2.4,"dA":-4.0},{"wn":1407.5,"dD":1.3,"dA":-6.0},
{"wn":1412.5,"dD":2.0,"dA":-3.2},{"wn":1417.5,"dD":0.9,"dA":-8.5},{"wn":1422.5,"dD":2.6,"dA":-4.4},{"wn":1427.5,"dD":1.5,"dA":-6.3},
{"wn":1432.5,"dD":2.2,"dA":-3.5},{"wn":1437.5,"dD":1.0,"dA":-9.2},{"wn":1442.5,"dD":2.7,"dA":-5.1},{"wn":1447.5,"dD":1.2,"dA":-6.8},
{"wn":1452.5,"dD":2.3,"dA":-3.1},{"wn":1457.5,"dD":1.4,"dA":-7.7},{"wn":1462.5,"dD":2.9,"dA":-4.8},{"wn":1467.5,"dD":1.1,"dA":-10.5},
{"wn":1472.5,"dD":2.2,"dA":-5.4},{"wn":1477.5,"dD":1.3,"dA":-7.1},{"wn":1482.5,"dD":3.1,"dA":-3.9},{"wn":1487.5,"dD":1.0,"dA":-9.6},
{"wn":1492.5,"dD":2.5,"dA":-5.8},{"wn":1497.5,"dD":1.6,"dA":-7.3},{"wn":1502.5,"dD":2.8,"dA":-4.2},{"wn":1507.5,"dD":1.2,"dA":-10.5},
{"wn":1512.5,"dD":2.4,"dA":-5.0},{"wn":1517.5,"dD":1.5,"dA":-6.9},{"wn":1522.5,"dD":3.4,"dA":-4.5},{"wn":1527.5,"dD":0.9,"dA":-8.8},
{"wn":1532.5,"dD":2.6,"dA":-5.5},{"wn":1537.5,"dD":1.4,"dA":-7.2},{"wn":1542.5,"dD":2.1,"dA":-3.6},{"wn":1547.5,"dD":0.7,"dA":-9.9},
{"wn":1552.5,"dD":2.5,"dA":-5.2},{"wn":1557.5,"dD":1.3,"dA":-6.1},{"wn":1562.5,"dD":2.0,"dA":-2.6},{"wn":1567.5,"dD":1.1,"dA":-3.8},
{"wn":1572.5,"dD":1.8,"dA":-1.6},{"wn":1577.5,"dD":0.9,"dA":-2.9},{"wn":1587.5,"dD":2.1,"dA":-2.0},{"wn":1592.5,"dD":1.2,"dA":-4.1},
{"wn":1597.5,"dD":2.6,"dA":-2.7},{"wn":1602.5,"dD":1.0,"dA":-7.7},{"wn":1607.5,"dD":2.7,"dA":-4.4},{"wn":1612.5,"dD":1.5,"dA":-6.3},
{"wn":1617.5,"dD":3.3,"dA":-3.9},{"wn":1622.5,"dD":1.2,"dA":-10.5},{"wn":1627.5,"dD":2.4,"dA":-5.2},{"wn":1632.5,"dD":1.6,"dA":-7.0},
{"wn":1637.5,"dD":3.0,"dA":-4.6},{"wn":1642.5,"dD":1.1,"dA":-9.4},{"wn":1647.5,"dD":2.8,"dA":-5.6},{"wn":1652.5,"dD":1.4,"dA":-6.7},
{"wn":1657.5,"dD":3.6,"dA":-4.1},{"wn":1662.5,"dD":1.3,"dA":-8.3},{"wn":1667.5,"dD":2.5,"dA":-5.0},{"wn":1672.5,"dD":1.7,"dA":-10.5},
{"wn":1677.5,"dD":3.2,"dA":-4.7},{"wn":1682.5,"dD":1.1,"dA":-7.5},{"wn":1687.5,"dD":2.9,"dA":-5.3},{"wn":1692.5,"dD":1.5,"dA":-9.0},
{"wn":1697.5,"dD":3.5,"dA":-4.5},{"wn":1702.5,"dD":1.2,"dA":-6.9},{"wn":1707.5,"dD":2.6,"dA":-5.1},{"wn":1712.5,"dD":1.8,"dA":-10.5},
{"wn":1717.5,"dD":3.8,"dA":-4.0},{"wn":1722.5,"dD":1.3,"dA":-7.4},{"wn":1727.5,"dD":2.7,"dA":-5.9},{"wn":1732.5,"dD":1.6,"dA":-9.1},
{"wn":1737.5,"dD":3.3,"dA":-4.3},{"wn":1742.5,"dD":1.0,"dA":-6.7},{"wn":1747.5,"dD":2.9,"dA":-5.5},{"wn":1752.5,"dD":1.7,"dA":-10.5},
{"wn":1757.5,"dD":3.6,"dA":-4.8},{"wn":1762.5,"dD":1.2,"dA":-7.2},{"wn":1767.5,"dD":2.4,"dA":-5.4},{"wn":1772.5,"dD":1.5,"dA":-9.3},
{"wn":1777.5,"dD":3.0,"dA":-4.1},{"wn":1782.5,"dD":1.1,"dA":-6.4},{"wn":1787.5,"dD":2.3,"dA":-3.7},{"wn":1792.5,"dD":1.4,"dA":-8.6},
{"wn":1797.5,"dD":2.7,"dA":-4.5},{"wn":1802.5,"dD":0.9,"dA":-3.3},{"wn":1807.5,"dD":1.8,"dA":-6.1},{"wn":1812.5,"dD":0.7,"dA":-2.4},
{"wn":1817.5,"dD":1.5,"dA":-4.0},{"wn":1822.5,"dD":0.8,"dA":-2.0},{"wn":1827.5,"dD":1.3,"dA":-5.4},{"wn":1832.5,"dD":0.6,"dA":-1.8},
{"wn":1837.5,"dD":1.1,"dA":-3.0},{"wn":1842.5,"dD":0.5,"dA":-1.5},{"wn":1847.5,"dD":0.9,"dA":-2.6}
]},
"vconcat": [
 {
  "width": 961, "height": 317,
  "title": {"text": "Daily Mean Brightness Temperature on 20130824"},
  "encoding": {"x": {"field": "wn", "type": "quantitative", "scale": {"domain": [600, 2500], "nice": false, "zero": false}, "axis": {"title": "Wavenumber [cm⁻¹]", "values": [600, 800, 1000, 1200, 1400, 1600, 1800, 2000, 2200, 2400]}}},
  "layer": [
   {"mark": {"type": "line", "clip": true, "strokeWidth": 1.4, "invalid": "filter"},
    "encoding": {
     "y": {"field": "S", "type": "quantitative", "scale": {"domain": [170, 300], "nice": false, "zero": false}, "axis": {"title": "Brightness Temperature [K]", "values": [180, 200, 220, 240, 260, 280, 300]}},
     "color": {"datum": "SHIS", "scale": {"domain": ["SHIS", "DR", "AVAPS"], "range": ["#000000", "#00ff00", "#0000ff"]},
      "legend": {"title": null, "orient": "top-right", "offset": 10, "strokeColor": "black", "fillColor": "white", "padding": 8, "labelFontSize": 25, "labelColor": "black", "labelFont": "Liberation Sans", "symbolType": "M-1,0H4", "symbolSize": 576, "symbolStrokeWidth": 1.5, "labelOffset": 50, "rowPadding": 4, "labelLimit": 300}}
    }},
   {"mark": {"type": "line", "clip": true, "strokeWidth": 1.4, "invalid": "filter"},
    "encoding": {
     "y": {"field": "D", "type": "quantitative", "scale": {"domain": [170, 300], "nice": false, "zero": false}, "axis": {"title": "Brightness Temperature [K]", "values": [180, 200, 220, 240, 260, 280, 300]}},
     "color": {"datum": "DR"}
    }},
   {"mark": {"type": "line", "clip": true, "strokeWidth": 1.4, "invalid": "filter"},
    "encoding": {
     "y": {"field": "A", "type": "quantitative", "scale": {"domain": [170, 300], "nice": false, "zero": false}, "axis": {"title": "Brightness Temperature [K]", "values": [180, 200, 220, 240, 260, 280, 300]}},
     "color": {"datum": "AVAPS"}
    }}
  ]
 },
 {
  "width": 963, "height": 317,
  "title": {"text": "Brightness Temperature Difference"},
  "encoding": {"x": {"field": "wn", "type": "quantitative", "scale": {"domain": [600, 2600], "nice": false, "zero": false}, "axis": {"title": "Wavenumber [cm⁻¹]", "titlePadding": 7, "labelPadding": 16, "values": [600, 800, 1000, 1200, 1400, 1600, 1800, 2000, 2200, 2400, 2600]}}},
  "layer": [
   {"mark": {"type": "line", "clip": true, "strokeWidth": 1.4, "color": "#00ff00", "invalid": "filter"},
    "encoding": {"y": {"field": "dD", "type": "quantitative", "scale": {"domain": [-10, 10], "nice": false, "zero": false}, "axis": {"title": "ΔBT [K]", "values": [-10, -5, 0, 5, 10]}}}},
   {"mark": {"type": "line", "clip": true, "strokeWidth": 1.4, "color": "#0000ff", "invalid": "filter"},
    "encoding": {"y": {"field": "dA", "type": "quantitative", "scale": {"domain": [-10, 10], "nice": false, "zero": false}, "axis": {"title": "ΔBT [K]", "values": [-10, -5, 0, 5, 10]}}}}
  ]
 }
]
}
